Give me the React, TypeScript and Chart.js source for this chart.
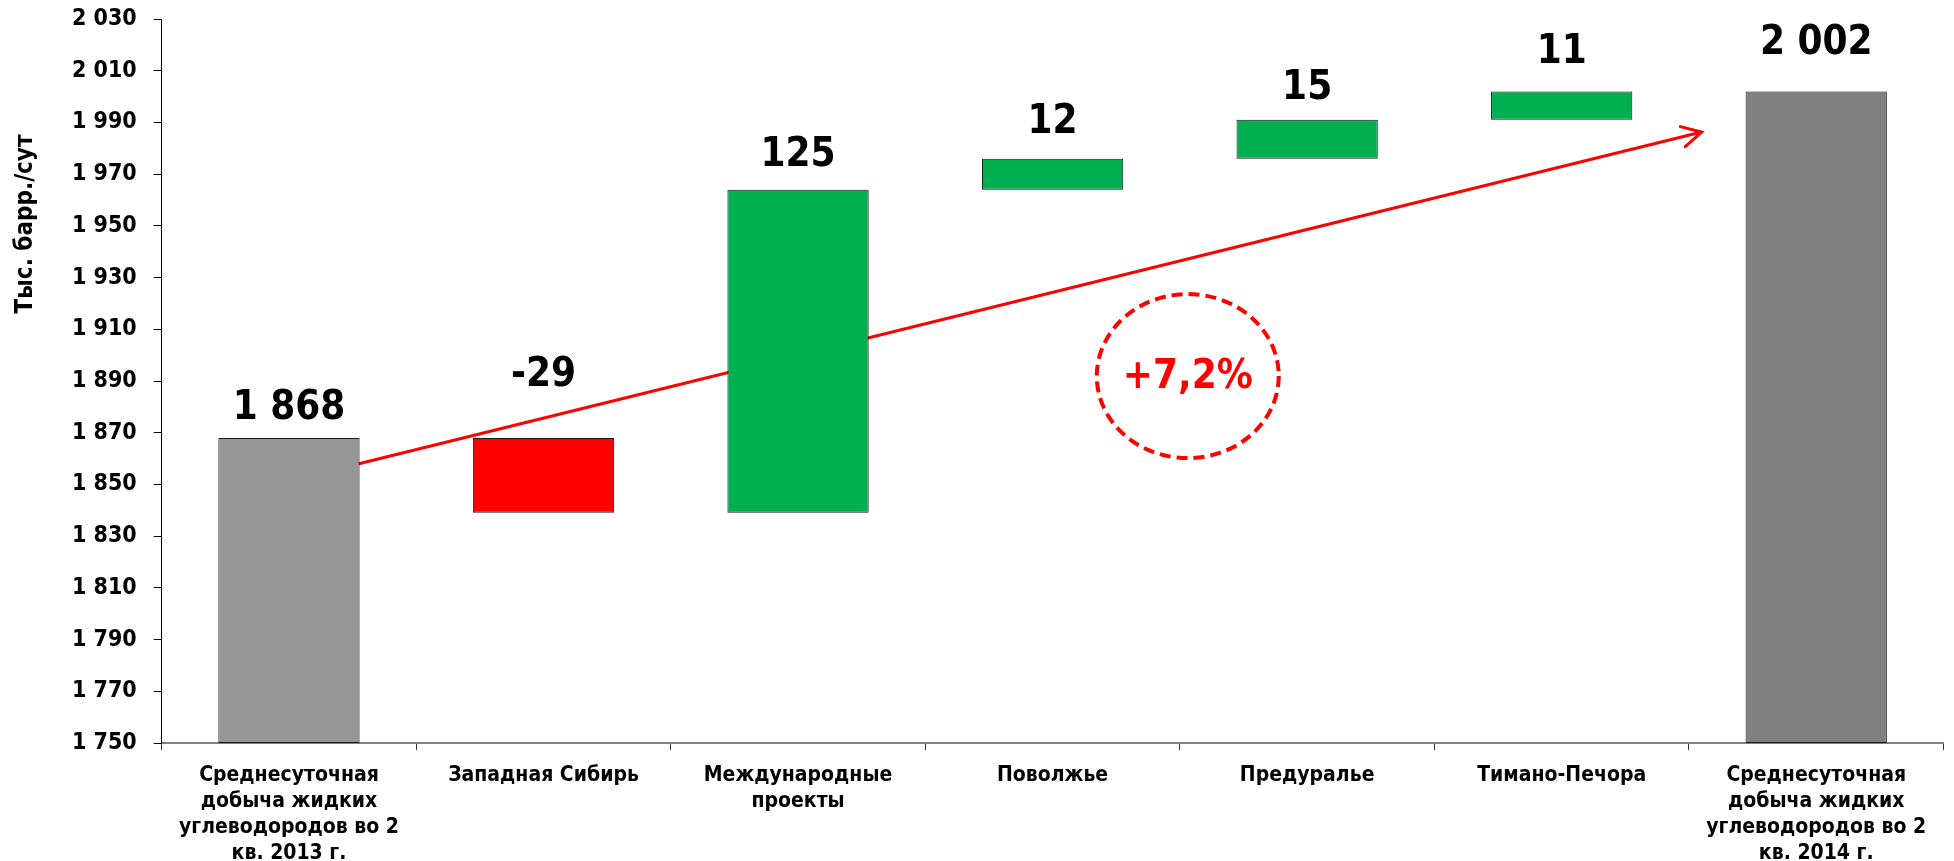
import { useEffect, useRef } from "react";
import { Chart, registerables } from "chart.js";

Chart.register(...registerables);

// ---------- data ----------
const categories: (string | string[])[] = [
  ["Среднесуточная", "добыча жидких", "углеводородов во 2", "кв. 2013 г."],
  "Западная Сибирь",
  ["Международные", "проекты"],
  "Поволжье",
  "Предуралье",
  "Тимано-Печора",
  ["Среднесуточная", "добыча жидких", "углеводородов во 2", "кв. 2014 г."],
];
const startValue = 1868;
const deltas = [-29, 125, 12, 15, 11];
const endValue = 2002;

const axisMin = 1750;
const axisMax = 2030;
const axisStep = 20;

const yAxisTitle = "Тыс. барр./сут";
const growthLabel = "+7,2%";

// trend arrow and growth bubble, in chart units (category index, value)
const trendStart = { index: 0, value: 1851.3 };
const trendEnd = { index: 5.55, value: 1986.3 };
const bubbleCenter = { index: 3.531, value: 1891.9 };

// ---------- styling ----------
const FONT = "'DejaVu Sans Condensed', 'DejaVu Sans', sans-serif";
const startColor = "#969696";
const endColor = "#808080";
const upColor = "#00B050";
const downColor = "#FF0000";
const labelGaps = [19, 52, 24, 26, 21, 28, 37];
const AREA = { top: 19, right: 1943.5 };

const fmt = (n: number) =>
  Math.abs(n) >= 1000 ? String(n).replace(/\B(?=(\d{3})+(?!\d))/g, " ") : String(n);

function buildRanges(): [number, number][] {
  const r: [number, number][] = [[axisMin, startValue]];
  let cur = startValue;
  for (const d of deltas) {
    const next = cur + d;
    r.push([Math.min(cur, next), Math.max(cur, next)]);
    cur = next;
  }
  r.push([axisMin, endValue]);
  return r;
}

export default function App() {
  const ref = useRef<HTMLCanvasElement | null>(null);

  useEffect(() => {
    if (!ref.current) return;
    const ranges = buildRanges();
    const colors = [startColor, ...deltas.map((d) => (d < 0 ? downColor : upColor)), endColor];
    const valueLabels = [fmt(startValue), ...deltas.map((d) => String(d)), fmt(endValue)];

    const trendPlugin = {
      id: "trend",
      beforeDatasetsDraw(chart: any) {
        const { ctx, scales } = chart;
        const x1 = scales.x.getPixelForValue(trendStart.index);
        const y1 = scales.y.getPixelForValue(trendStart.value);
        const x2 = scales.x.getPixelForValue(trendEnd.index);
        const y2 = scales.y.getPixelForValue(trendEnd.value);
        ctx.save();
        ctx.strokeStyle = "#FF0000";
        ctx.lineWidth = 3;
        ctx.lineCap = "round";
        ctx.beginPath();
        ctx.moveTo(x1, y1);
        ctx.lineTo(x2, y2);
        const ang = Math.atan2(y2 - y1, x2 - x1);
        const len = 22;
        const spread = (28 * Math.PI) / 180;
        ctx.moveTo(x2 - len * Math.cos(ang - spread), y2 - len * Math.sin(ang - spread));
        ctx.lineTo(x2, y2);
        ctx.lineTo(x2 - len * Math.cos(ang + spread), y2 - len * Math.sin(ang + spread));
        ctx.stroke();
        ctx.restore();
      },
    };

    const labelsPlugin = {
      id: "valueLabels",
      afterDatasetsDraw(chart: any) {
        const { ctx } = chart;
        const meta = chart.getDatasetMeta(0);
        ctx.save();
        ctx.fillStyle = "#000";
        ctx.font = `bold 40px ${FONT}`;
        ctx.textAlign = "center";
        ctx.textBaseline = "alphabetic";
        meta.data.forEach((el: any, i: number) => {
          const top = Math.min(el.y, el.base);
          ctx.fillText(valueLabels[i], el.x, top - labelGaps[i]);
        });
        ctx.restore();
      },
    };

    const overlayPlugin = {
      id: "overlay",
      afterDraw(chart: any) {
        const { ctx, scales } = chart;
        const cx = scales.x.getPixelForValue(bubbleCenter.index);
        const cy = scales.y.getPixelForValue(bubbleCenter.value);
        ctx.save();
        ctx.strokeStyle = "#FF0000";
        ctx.lineWidth = 4;
        ctx.setLineDash([11, 6]);
        ctx.beginPath();
        ctx.ellipse(cx, cy, 91, 82, 0, 0, Math.PI * 2);
        ctx.stroke();
        ctx.setLineDash([]);
        ctx.fillStyle = "#FF0000";
        ctx.font = `bold 40px ${FONT}`;
        ctx.textAlign = "center";
        ctx.textBaseline = "middle";
        ctx.fillText(growthLabel, cx, cy + 2);
        // y-axis title
        ctx.fillStyle = "#000";
        ctx.font = `bold 24px ${FONT}`;
        ctx.translate(26, 224);
        ctx.rotate(-Math.PI / 2);
        ctx.fillText(yAxisTitle, 0, 0);
        ctx.restore();
      },
    };

    const chart = new Chart(ref.current, {
      type: "bar",
      data: {
        labels: categories,
        datasets: [
          {
            data: ranges as any,
            backgroundColor: colors,
            borderColor: "#1a1a1a",
            borderWidth: 1,
            borderSkipped: false,
            categoryPercentage: 1,
            barPercentage: 0.555,
          },
        ],
      },
      options: {
        responsive: false,
        animation: false,
        layout: { padding: { top: 19, right: 10.5, left: 0, bottom: 0 } },
        plugins: {
          legend: { display: false },
          tooltip: { enabled: false },
          title: { display: false },
        },
        scales: {
          x: {
            afterFit(scale: any) {
              scale.height = 118;
            },
            grid: {
              offset: true,
              drawOnChartArea: false,
              drawTicks: true,
              tickLength: 7,
              color: "#333",
            },
            border: { display: true, color: "#808080", width: 2 },
            ticks: {
              autoSkip: false,
              maxRotation: 0,
              minRotation: 0,
              color: "#000",
              padding: 12,
              font: { family: FONT, size: 21, weight: "bold", lineHeight: 1.25 },
            },
          },
          y: {
            min: axisMin,
            max: axisMax,
            afterFit(scale: any) {
              scale.width = 161.7;
              scale.paddingTop = 0;
              scale.paddingBottom = 0;
            },
            grid: {
              drawOnChartArea: false,
              drawTicks: true,
              tickLength: 8,
              color: "#000",
            },
            border: { display: true, color: "#000", width: 1 },
            ticks: {
              stepSize: axisStep,
              color: "#000",
              padding: 17,
              font: { family: FONT, size: 23, weight: "bold" },
              callback: (v: any) => fmt(Number(v)),
            },
          },
        },
      },
      plugins: [trendPlugin, labelsPlugin, overlayPlugin],
    });

    // pin the plot area to the reference's frame
    const pad: any = (chart.options as any).layout.padding;
    for (let k = 0; k < 3; k++) {
      const ca = chart.chartArea;
      const dTop = ca.top - AREA.top;
      const dRight = ca.right - AREA.right;
      if (Math.abs(dTop) < 0.2 && Math.abs(dRight) < 0.2) break;
      pad.top = Math.max(0, pad.top - dTop);
      pad.right = Math.max(0, pad.right + dRight);
      chart.update();
    }

    return () => chart.destroy();
  }, []);

  return (
    <div style={{ position: "fixed", left: 0, top: 0, width: 1954, height: 861, background: "#fff" }}>
      <canvas ref={ref} width={1954} height={861} style={{ display: "block" }} />
    </div>
  );
}
